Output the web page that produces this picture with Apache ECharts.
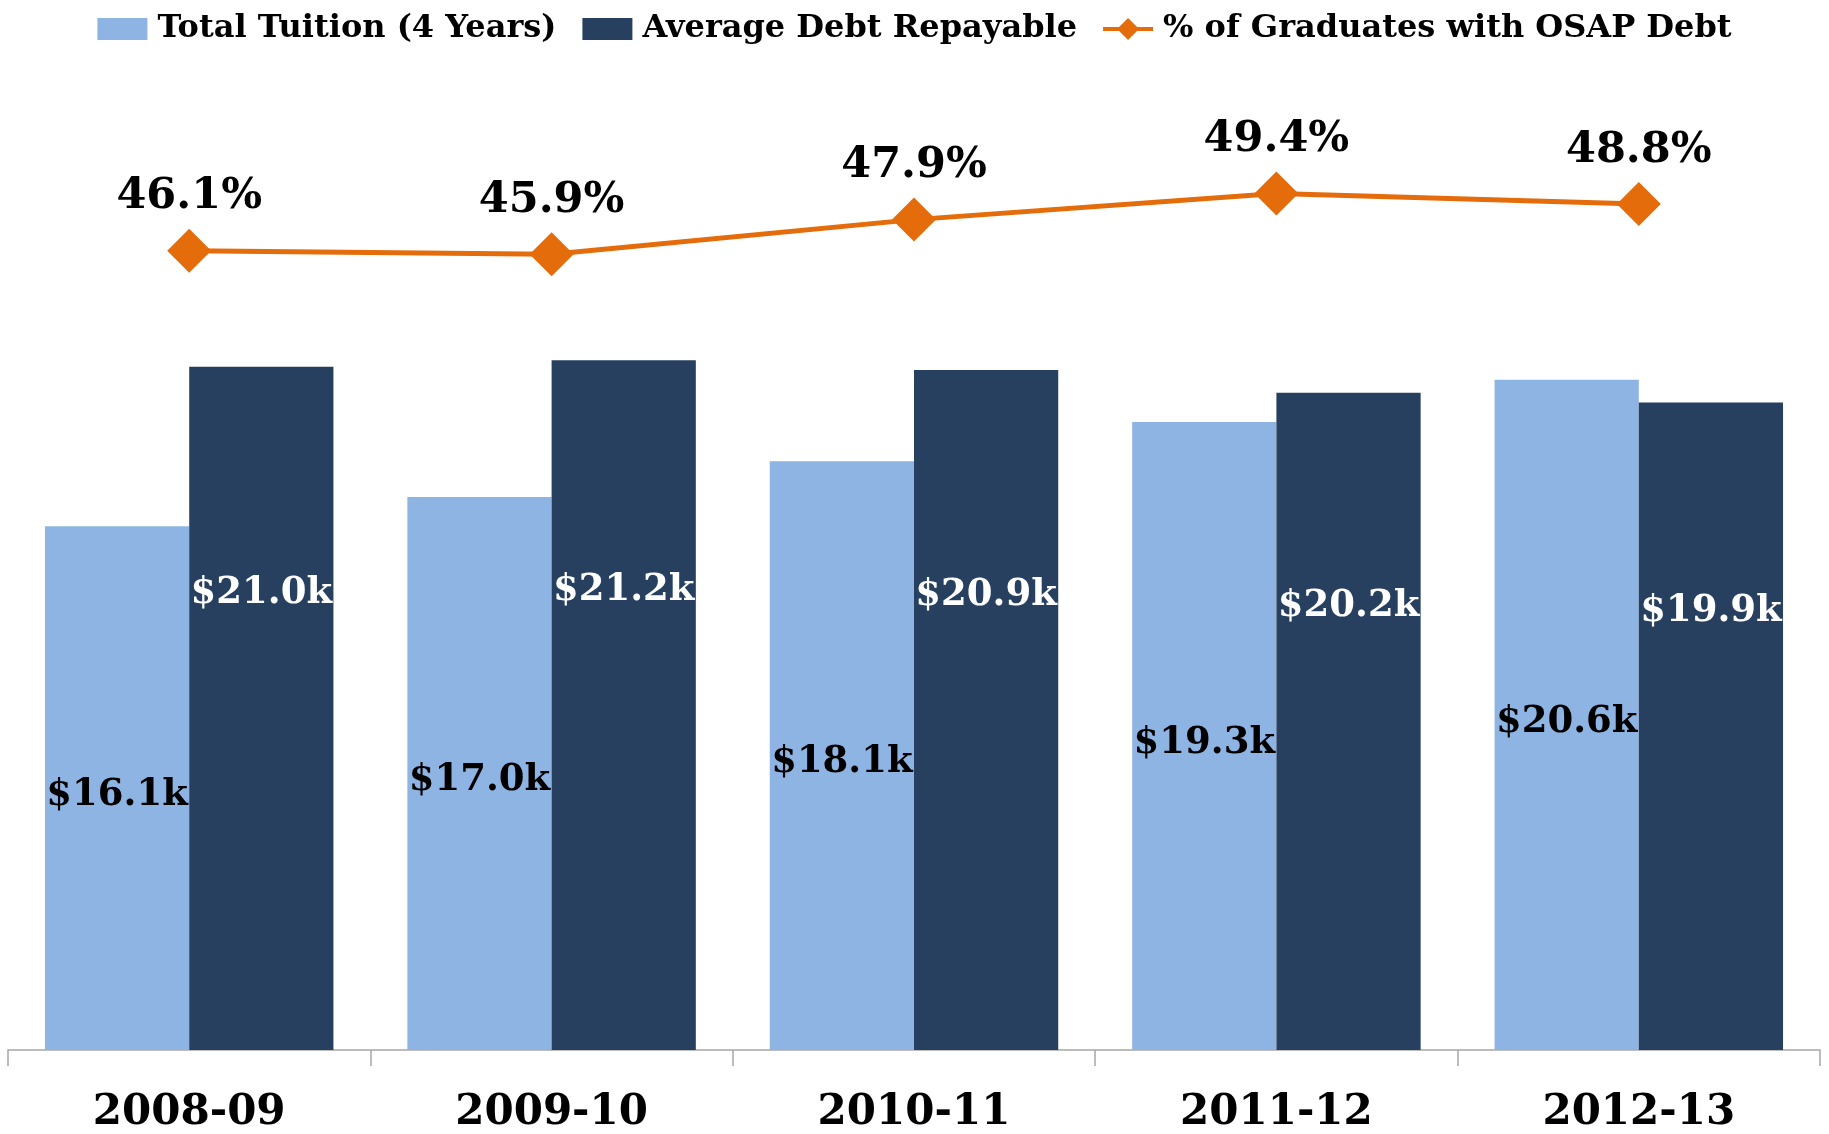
<!DOCTYPE html>
<html>
<head>
<meta charset="utf-8">
<script src="https://cdn.jsdelivr.net/npm/echarts@6/dist/echarts.min.js"></script>
<style>
  html, body { margin: 0; padding: 0; background: #fff; }
  #main { width: 1829px; height: 1134px; }
</style>
</head>
<body>
<div id="main"></div>
<script>
// data
var years = ['2008-09', '2009-10', '2010-11', '2011-12', '2012-13'];
var tuition = [16.1, 17.0, 18.1, 19.3, 20.6];      // $k, total tuition (4 years)
var debt = [21.0, 21.2, 20.9, 20.2, 19.9];         // $k, average debt repayable
var osapShare = [46.1, 45.9, 47.9, 49.4, 48.8];    // % of graduates with OSAP debt

var FONT = 'DejaVu Serif';
// line + diamond for the legend
var LINE_DIAMOND = 'path://M0,9L16,9L25,0L34,9L50,9L50,13L34,13L25,22L16,13L0,13Z';

var myChart = echarts.init(document.getElementById('main'));

function money(p) {
    return '$' + p.value.toFixed(1) + 'k';
}

var option = {
    backgroundColor: '#fff',
    legend: {
        top: 8,
        left: 'center',
        itemWidth: 50,
        itemHeight: 22,
        itemGap: 26,
        textStyle: { fontFamily: FONT, fontWeight: 'bold', fontSize: 32, color: '#000', padding: [0, 0, 0, 5] },
        data: [
            { name: 'Total Tuition (4 Years)', icon: 'rect' },
            { name: 'Average Debt Repayable', icon: 'rect' },
            { name: '% of Graduates with OSAP Debt', icon: LINE_DIAMOND }
        ]
    },
    grid: { left: 8, right: 9, top: 74, bottom: 82 },
    xAxis: {
        type: 'category',
        data: years,
        axisLine: { lineStyle: { color: '#A6A6A6', width: 1.5 } },
        axisTick: { show: true, interval: 0, length: 16, lineStyle: { color: '#A6A6A6', width: 1.5 } },
        axisLabel: { margin: 42, fontFamily: FONT, fontWeight: 'bold', fontSize: 42, color: '#000' }
    },
    yAxis: [
        { type: 'value', min: 0, max: 30, show: false },
        { type: 'value', min: 0, max: 56.3, show: false }
    ],
    series: [
        {
            name: 'Total Tuition (4 Years)',
            type: 'bar',
            data: tuition,
            barGap: '0%',
            barCategoryGap: '20.4%',
            itemStyle: { color: '#8EB4E3' },
            label: {
                show: true,
                position: 'inside',
                offset: [0, 7],
                formatter: money,
                fontFamily: FONT, fontWeight: 'bold', fontSize: 37, color: '#000'
            }
        },
        {
            name: 'Average Debt Repayable',
            type: 'bar',
            data: debt,
            itemStyle: { color: '#274060' },
            label: {
                show: true,
                position: 'inside',
                offset: [0, -115],
                formatter: money,
                fontFamily: FONT, fontWeight: 'bold', fontSize: 37, color: '#fff'
            }
        },
        {
            name: '% of Graduates with OSAP Debt',
            type: 'line',
            yAxisIndex: 1,
            data: osapShare,
            symbol: 'diamond',
            symbolSize: 44,
            lineStyle: { color: '#E46C0A', width: 5 },
            itemStyle: { color: '#E46C0A' },
            label: {
                show: true,
                position: 'top',
                distance: 10,
                formatter: function (p) { return p.value.toFixed(1) + '%'; },
                fontFamily: FONT, fontWeight: 'bold', fontSize: 43, color: '#000'
            }
        }
    ]
};
myChart.setOption(option);
</script>
</body>
</html>
